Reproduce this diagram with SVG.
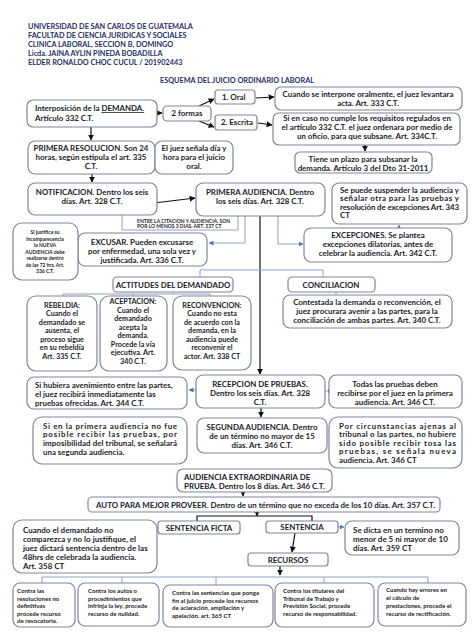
<svg xmlns="http://www.w3.org/2000/svg" width="474" height="632" viewBox="0 0 474 632">
<style>
.t{font-family:Lato,'Liberation Sans',sans-serif;font-weight:bold;fill:#1c1c28}
.h{font-family:Lato,'Liberation Sans',sans-serif;font-weight:bold;fill:#1f2f5f;font-size:7.3px}
.m{font-size:7.9px}
.s{font-size:7.2px}
.xs{font-size:5px}
.b{font-size:6.1px}
.l{font-size:8px}
.c{text-anchor:middle}
.box{fill:#fff;stroke:#7d8599;stroke-width:1.2}
.ln{fill:none;stroke:#8ea2c6;stroke-width:1}
.ak{fill:none;stroke:#111;stroke-width:1.2}
</style>
<defs>
<marker id="ab" viewBox="0 0 10 10" refX="9" refY="5" markerWidth="5" markerHeight="5" orient="auto"><path d="M0,0L10,5L0,10z" fill="#111"/></marker>
<marker id="au" viewBox="0 0 10 10" refX="9" refY="5" markerWidth="5" markerHeight="5" orient="auto"><path d="M0,0L10,5L0,10z" fill="#4f74b8"/></marker>
</defs>
<rect width="474" height="632" fill="#fff"/>
<g id="header">
<text class="h" x="28" y="29">UNIVERSIDAD DE SAN CARLOS DE GUATEMALA</text>
<text class="h" x="28" y="38">FACULTAD DE CIENCIA JURIDICAS Y SOCIALES</text>
<text class="h" x="28" y="47">CLINICA LABORAL, SECCION B, DOMINGO</text>
<text class="h" x="28" y="56">Licda. JAINA AYLIN PINEDA BOBADILLA</text>
<text class="h" x="28" y="65">ELDER RONALDO CHOC CUCUL / 201902443</text>
<text class="h" x="237" y="83" text-anchor="middle">ESQUEMA DEL JUICIO ORDINARIO LABORAL</text>
</g>
<g id="connectors">
<path class="ak" d="M157,113H162" marker-end="url(#ab)"/>
<path class="ak" d="M199,106L214,99" marker-end="url(#ab)"/>
<path class="ak" d="M199,121L214,127" marker-end="url(#ab)"/>
<path class="ak" d="M256,98L274,97" marker-end="url(#ab)"/>
<path class="ak" d="M258,123L272,125" marker-end="url(#ab)"/>
<path class="ak" d="M365,145V151" marker-end="url(#ab)"/>
<path class="ak" d="M91,127V140" marker-end="url(#ab)"/>
<path class="ak" d="M92,174V182" marker-end="url(#ab)"/>
<path class="ak" d="M154,203L195,198" marker-end="url(#ab)"/>
<path class="ln" d="M122,215V230H238V216"/>
<path class="ln" d="M245,216V243H209" marker-end="url(#au)"/>
<path class="ln" d="M78,246H67" marker-end="url(#au)"/>
<path class="ln" d="M278,216V244H303" marker-end="url(#au)"/>
<path class="ln" d="M399,228V225" marker-end="url(#au)"/>
<path class="ak" d="M260,216V374" marker-end="url(#ab)"/>
<path class="ln" d="M200,277V270H323V277"/>
<path class="ln" d="M173,292V294M63,296V294H210V296M133,294V296"/>
<path class="ln" d="M336,292V295"/>
<path class="ln" d="M196,390H189" marker-end="url(#au)"/>
<path class="ln" d="M325,391H332" marker-end="url(#au)"/>
<path class="ak" d="M261,408V417" marker-end="url(#ab)"/>
<path class="ak" d="M243,492V496" marker-end="url(#ab)"/>
<path class="ak" d="M257,512V516" marker-end="url(#ab)"/>
<path class="ak" d="M197,521V516H312V521"/>
<path class="ln" d="M158,528H152" marker-end="url(#au)"/>
<path class="ln" d="M338,527H344" marker-end="url(#au)"/>
<path class="ak" d="M295,533L292,552" marker-end="url(#ab)"/>
<path class="ak" d="M280,566V575" marker-end="url(#ab)"/>
<path class="ln" d="M42,583V577H428V583M122,577V583M216,577V585M324,577V583"/>
</g>
<g id="n_demanda"><rect class="box" x="27" y="100" width="130" height="27" rx="6"/>
<text class="t m" x="35" y="111">Interposición de la <tspan text-decoration="underline">DEMANDA.</tspan></text>
<text class="t m" x="35" y="120.5">Artículo 332 C.T.</text></g>
<g id="n_formas"><rect class="box" x="163" y="106" width="48" height="15" rx="4"/>
<text class="t m c" x="187" y="116">2 formas</text></g>
<g id="n_oral"><rect class="box" x="215" y="90" width="40" height="14" rx="3"/>
<text class="t m" x="222" y="99.5">1.  Oral</text></g>
<g id="n_escrita"><rect class="box" x="215" y="115" width="42" height="15" rx="3"/>
<text class="t m" x="221" y="125">2.  Escrita</text></g>
<g id="n_oral_desc"><rect class="box" x="275" y="87" width="187" height="23" rx="6"/>
<text class="t m c" x="368" y="97">Cuando se interpone oralmente, el juez levantara</text>
<text class="t m c" x="368" y="106">acta. Art. 333 C.T.</text></g>
<g id="n_escrita_desc"><rect class="box" x="273" y="113" width="187" height="32" rx="6"/>
<text class="t m c" x="367" y="120.5">Si en caso no cumple los requisitos regulados en</text>
<text class="t m c" x="367" y="129.5">el artículo 332 C.T. el juez ordenara por medio de</text>
<text class="t m c" x="367" y="138.5">un oficio, para que subsane. Art. 334C.T.</text></g>
<g id="n_plazo"><rect class="box" x="295" y="152" width="137" height="21" rx="5"/>
<text class="t m c" x="363" y="161.5">Tiene un plazo para subsanar la</text>
<text class="t m c" x="363" y="170.5">demanda. Artículo 3 del Dto 31-2011</text></g>
<g id="n_resolucion"><rect class="box" x="28" y="141" width="127" height="33" rx="7"/>
<text class="t m c" x="91" y="150.5">PRIMERA RESOLUCION. Son 24</text>
<text class="t m c" x="91" y="159.5">horas, según estipula el art. 335</text>
<text class="t m c" x="91" y="169">C.T.</text></g>
<g id="n_juez"><rect class="box" x="155" y="141" width="78" height="33" rx="7"/>
<text class="t m c" x="194" y="150.5">El juez señala día y</text>
<text class="t m c" x="194" y="159.5">hora para el juicio</text>
<text class="t m c" x="194" y="169">oral.</text></g>
<g id="n_notificacion"><rect class="box" x="28" y="183" width="129" height="32" rx="7"/>
<text class="t m c" x="92" y="194.5">NOTIFICACION. Dentro los seis</text>
<text class="t m c" x="92" y="203.5">días. Art. 328 C.T.</text></g>
<g id="n_audiencia"><rect class="box" x="196" y="183" width="129" height="33" rx="7"/>
<text class="t m c" x="260" y="194.5">PRIMERA AUDIENCIA. Dentro</text>
<text class="t m c" x="260" y="203.5">los seis días. Art. 328 C.T.</text></g>
<g id="n_nota337">
<text class="t xs" x="137" y="222.5">ENTRE LA CITACION Y AUDIENCIA, SON</text>
<text class="t xs" x="137" y="228.2">POR LO MENOS 3 DIAS. ART. 337 CT</text></g>
<g id="n_excusar"><rect class="box" x="78" y="233" width="129" height="33" rx="7"/>
<text class="t m c" x="142" y="244.5">EXCUSAR. Pueden excusarse</text>
<text class="t m c" x="142" y="253.5">por enfermedad, una sola vez y</text>
<text class="t m c" x="142" y="262.5">justificada. Art. 336 C.T.</text></g>
<g id="n_justifica"><rect class="box" x="13" y="223" width="65" height="57" rx="9"/>
<text class="t xs c" x="45" y="234">Si justifica su</text>
<text class="t xs c" x="45" y="240.5">incomparecencia</text>
<text class="t xs c" x="45" y="247">la NUEVA</text>
<text class="t xs c" x="45" y="253.5">AUDIENCIA debe</text>
<text class="t xs c" x="45" y="260">realizarse dentro</text>
<text class="t xs c" x="45" y="266.5">de las 72 hrs. Art.</text>
<text class="t xs c" x="45" y="273">336 C.T.</text></g>
<g id="n_suspender"><rect class="box" x="332" y="183" width="135" height="41" rx="7"/>
<text class="t m" x="340" y="192.5" textLength="119" lengthAdjust="spacing">Se puede suspender la audiencia y</text>
<text class="t m" x="340" y="201" textLength="119" lengthAdjust="spacing">señalar otra para las pruebas y</text>
<text class="t m" x="340" y="209.5" textLength="119" lengthAdjust="spacing">resolución de excepciones Art. 343</text>
<text class="t m" x="340" y="218">CT</text></g>
<g id="n_excepciones"><rect class="box" x="304" y="228" width="148" height="34" rx="7"/>
<text class="t m c" x="378" y="237.5">EXCEPCIONES. Se plantea</text>
<text class="t m c" x="378" y="246.5">excepciones dilatorias, antes de</text>
<text class="t m c" x="378" y="255.5">celebrar la audiencia. Art. 342 C.T.</text></g>
<g id="n_actitudes"><rect class="box" x="113" y="277" width="120" height="15" rx="4"/>
<text class="t m c" x="173" y="287.5">ACTITUDES DEL DEMANDADO</text></g>
<g id="n_conciliacion"><rect class="box" x="288" y="277" width="87" height="15" rx="4"/>
<text class="t m c" x="331" y="287.5">CONCILIACION</text></g>
<g id="n_contestada"><rect class="box" x="283" y="295" width="169" height="33" rx="7"/>
<text class="t m c" x="367" y="304.5">Contestada la demanda o reconvención, el</text>
<text class="t m c" x="367" y="313.5">juez procurara avenir a las partes, para la</text>
<text class="t m c" x="367" y="322.5">conciliación de ambas partes. Art. 340 C.T.</text></g>
<g id="n_rebeldia"><rect class="box" x="27" y="296" width="70" height="75" rx="9"/>
<text class="t s c" x="62" y="307.5">REBELDIA:</text>
<text class="t s c" x="62" y="316">Cuando el</text>
<text class="t s c" x="62" y="324.5">demandado se</text>
<text class="t s c" x="62" y="333">ausenta, el</text>
<text class="t s c" x="62" y="341.5">proceso sigue</text>
<text class="t s c" x="62" y="350">en su rebeldía</text>
<text class="t s c" x="62" y="358.5">Art. 335 C.T.</text></g>
<g id="n_aceptacion"><rect class="box" x="100" y="296" width="67" height="75" rx="9"/>
<text class="t s c" x="133" y="304">ACEPTACION:</text>
<text class="t s c" x="133" y="312.5">Cuando el</text>
<text class="t s c" x="133" y="321">demandado</text>
<text class="t s c" x="133" y="329.5">acepta la</text>
<text class="t s c" x="133" y="338">demanda.</text>
<text class="t s c" x="133" y="346.5">Procede la vía</text>
<text class="t s c" x="133" y="355">ejecutiva. Art.</text>
<text class="t s c" x="133" y="363.5">340 C.T.</text></g>
<g id="n_reconvencion"><rect class="box" x="173" y="296" width="78" height="74" rx="9"/>
<text class="t s c" x="212" y="307.5">RECONVENCION:</text>
<text class="t s c" x="212" y="316">Cuando no esta</text>
<text class="t s c" x="212" y="324.5">de acuerdo con la</text>
<text class="t s c" x="212" y="333">demanda, en la</text>
<text class="t s c" x="212" y="341.5">audiencia puede</text>
<text class="t s c" x="212" y="350">reconvenir el</text>
<text class="t s c" x="212" y="358.5">actor. Art. 338 CT</text></g>
<g id="n_avenimiento"><rect class="box" x="27" y="377" width="160" height="32" rx="7"/>
<text class="t m" x="35" y="387.5">Si hubiera avenimiento entre las partes,</text>
<text class="t m" x="35" y="396.5">el juez recibirá inmediatamente las</text>
<text class="t m" x="35" y="405.5">pruebas ofrecidas. Art. 344 C.T.</text></g>
<g id="n_recepcion"><rect class="box" x="196" y="375" width="129" height="33" rx="7"/>
<text class="t m c" x="260" y="386.5">RECEPCION DE PRUEBAS.</text>
<text class="t m c" x="260" y="395.5">Dentro los seis días. Art. 328</text>
<text class="t m c" x="260" y="404.5">C.T.</text></g>
<g id="n_todas"><rect class="box" x="329" y="375" width="133" height="33" rx="7"/>
<text class="t m c" x="395" y="386.5">Todas las pruebas deben</text>
<text class="t m c" x="395" y="395.5">recibirse por el juez en la primera</text>
<text class="t m c" x="395" y="404.5">audiencia. Art. 346 C.T.</text></g>
<g id="n_primera_no"><rect class="box" x="33" y="417" width="154" height="47" rx="9"/>
<text class="t m" x="43" y="428.5" textLength="134" lengthAdjust="spacing">Si en la primera audiencia no fue</text>
<text class="t m" x="43" y="437" textLength="134" lengthAdjust="spacing">posible recibir las pruebas, por</text>
<text class="t m" x="43" y="445.5" textLength="134" lengthAdjust="spacing">imposibilidad del tribunal, se señalará</text>
<text class="t m" x="43" y="454.5">una segunda audiencia.</text></g>
<g id="n_segunda"><rect class="box" x="197" y="418" width="130" height="35" rx="7"/>
<text class="t m c" x="262" y="429.5">SEGUNDA AUDIENCIA. Dentro</text>
<text class="t m c" x="262" y="438.5">de un término no mayor de 15</text>
<text class="t m c" x="262" y="447.5">días. Art. 346 C.T.</text></g>
<g id="n_circunstancias"><rect class="box" x="329" y="417" width="133" height="51" rx="9"/>
<text class="t m" x="339" y="428.5" textLength="117" lengthAdjust="spacing">Por circunstancias ajenas al</text>
<text class="t m" x="339" y="437" textLength="117" lengthAdjust="spacing">tribunal o las partes, no hubiere</text>
<text class="t m" x="339" y="445.5" textLength="117" lengthAdjust="spacing">sido posible recibir tosa las</text>
<text class="t m" x="339" y="454" textLength="117" lengthAdjust="spacing">pruebas, se señala nueva</text>
<text class="t m" x="339" y="462.5">audiencia. Art. 346 CT</text></g>
<g id="n_extra"><rect class="box" x="177" y="469" width="155" height="23" rx="6"/>
<text class="t m" x="184" y="479.5">AUDIENCIA EXTRAORDINARIA DE</text>
<text class="t m" x="184" y="489">PRUEBA. Dentro los 8 días. Art. 346 C.T.</text></g>
<g id="n_auto"><rect class="box" x="88" y="497" width="352" height="15" rx="4"/>
<text class="t m" x="96" y="507.5">AUTO PARA MEJOR PROVEER. Dentro de un término que no exceda de los 10 días. Art. 357 C.T.</text></g>
<g id="n_ficta"><rect class="box" x="158" y="521" width="82" height="13" rx="3"/>
<text class="t m c" x="199" y="530.5">SENTENCIA FICTA</text></g>
<g id="n_cuando_no"><rect class="box" x="13" y="520" width="144" height="53" rx="9"/>
<text class="t l" x="23" y="532.5">Cuando el demandado no</text>
<text class="t l" x="23" y="541.5">comparezca y no lo justifique, el</text>
<text class="t l" x="23" y="550.5">juez dictará sentencia dentro de las</text>
<text class="t l" x="23" y="559.5">48hrs de celebrada la audiencia.</text>
<text class="t l" x="23" y="568.5">Art. 358 CT</text></g>
<g id="n_sentencia"><rect class="box" x="266" y="521" width="72" height="12" rx="3"/>
<text class="t m c" x="302" y="530">SENTENCIA</text></g>
<g id="n_sedicta"><rect class="box" x="345" y="521" width="114" height="34" rx="7"/>
<text class="t l" x="353" y="532.5">Se dicta en un termino no</text>
<text class="t l" x="353" y="541.5">menor de 5 ni mayor de 10</text>
<text class="t l" x="353" y="550.5">días. Art. 359 CT</text></g>
<g id="n_recursos"><rect class="box" x="248" y="553" width="80" height="13" rx="3"/>
<text class="t m c" x="288" y="562.5">RECURSOS</text></g>
<g id="n_revocatoria"><rect class="box" x="13" y="583" width="62" height="44" rx="7"/>
<text class="t b" x="17" y="593">Contra las</text>
<text class="t b" x="17" y="600.5">resoluciones no</text>
<text class="t b" x="17" y="608">definitivas</text>
<text class="t b" x="17" y="615.5">procede recurso</text>
<text class="t b" x="17" y="623">de revocatoria.</text></g>
<g id="n_nulidad"><rect class="box" x="78" y="583" width="81" height="43" rx="7"/>
<text class="t b" x="88" y="593">Contra los autos o</text>
<text class="t b" x="88" y="600.5">procedimientos que</text>
<text class="t b" x="88" y="608">infrinja la ley, procede</text>
<text class="t b" x="88" y="615.5">recurso de nulidad.</text></g>
<g id="n_aclaracion"><rect class="box" x="163" y="585" width="110" height="42" rx="7"/>
<text class="t b" x="172" y="595">Contra las sentencias que ponga</text>
<text class="t b" x="172" y="602.5">fin al juicio procede los recursos</text>
<text class="t b" x="172" y="610">de aclaración, ampliación y</text>
<text class="t b" x="172" y="617.5">apelación. art. 365 CT</text></g>
<g id="n_responsabilidad"><rect class="box" x="275" y="583" width="99" height="44" rx="7"/>
<text class="t b" x="283" y="593">Contra los titulares del</text>
<text class="t b" x="283" y="600.5">Tribunal de Trabajo y</text>
<text class="t b" x="283" y="608">Previsión Social, procede</text>
<text class="t b" x="283" y="615.5">recurso de responsabilidad.</text></g>
<g id="n_rectificacion"><rect class="box" x="378" y="583" width="88" height="43" rx="7"/>
<text class="t b" x="386" y="592">Cuando hay errores en</text>
<text class="t b" x="386" y="600">el cálculo de</text>
<text class="t b" x="386" y="608">prestaciones, procede el</text>
<text class="t b" x="386" y="615.5">recurso de rectificación.</text></g>
</svg>
